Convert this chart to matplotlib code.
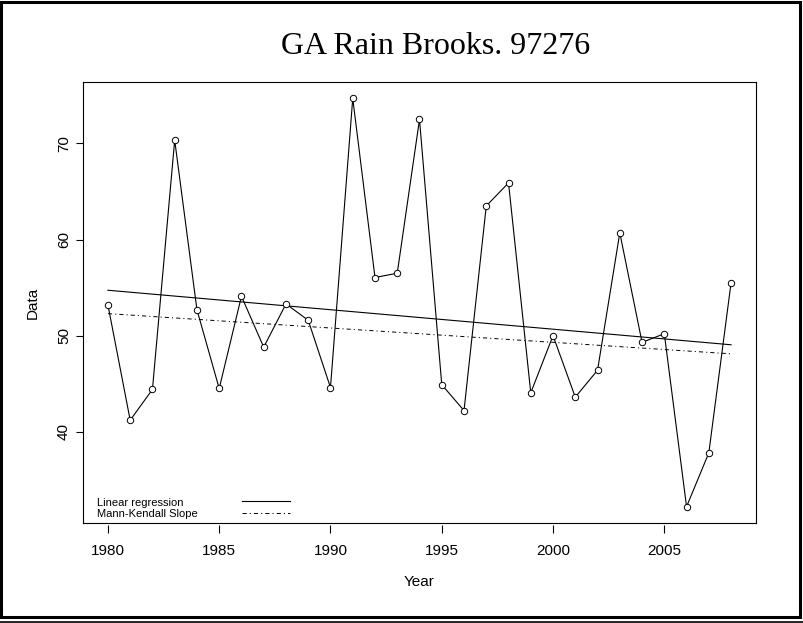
import numpy as np
import matplotlib
matplotlib.use("Agg")
import matplotlib.pyplot as plt
from matplotlib.patches import Rectangle
from matplotlib.lines import Line2D

years = list(range(1980, 2009))
values = [53.2, 41.2, 44.4, 70.35, 52.7, 44.5, 54.1, 48.8, 53.3, 51.6,
          44.6, 74.7, 56.05, 56.5, 72.5, 44.9, 42.2, 63.5, 65.9, 44.05,
          50.0, 43.6, 46.4, 60.7, 49.3, 50.2, 32.2, 37.8, 55.5]
x_ticks = [1980, 1985, 1990, 1995, 2000, 2005]
y_ticks = [40, 50, 60, 70]
title = "GA Rain Brooks. 97276"
legend_labels = ["Linear regression", "Mann-Kendall Slope"]

plt.rcParams['font.family'] = ['Liberation Sans', 'DejaVu Sans']
plt.rcParams['lines.scale_dashes'] = False

x = np.array(years, dtype=float)
y = np.array(values, dtype=float)

# linear regression
b1, b0 = np.polyfit(x, y, 1)
# Sen's slope (Mann-Kendall)
slopes = [(y[j] - y[i]) / (x[j] - x[i]) for i in range(len(x)) for j in range(i + 1, len(x))]
sen = np.median(slopes)
sen_int = np.median(y) - sen * np.median(x)

W, H = 804, 623
AX_L, AX_R, AX_T, AX_B = 83, 756, 82, 523
fig = plt.figure(figsize=(W / 100, H / 100), dpi=100)
ax = fig.add_axes([AX_L / W, 1 - AX_B / H, (AX_R - AX_L) / W, (AX_B - AX_T) / H])
aw, ah = AX_R - AX_L, AX_B - AX_T

dash = (3, 2.2, 0.8, 2.2)
ax.plot(x, y, color='black', lw=0.8, marker='o', ms=4.6, mfc='white', mec='black', mew=0.7, zorder=3)
xl = np.array([x.min(), x.max()])
ax.plot(xl, b0 + b1 * xl, color='black', lw=0.8, zorder=2)
ax.plot(xl, sen_int + sen * xl, color='black', lw=0.7, dashes=dash, zorder=2)

rng = x.max() - x.min()
ax.set_xlim(x.min() - 0.04 * rng, x.max() + 0.04 * rng)
yr = y.max() - y.min()
ax.set_ylim(y.min() - 0.04 * yr, y.max() + 0.04 * yr)

for s in ax.spines.values():
    s.set_linewidth(0.8)
    s.set_color('black')

ax.set_yticks(y_ticks)
ax.set_yticklabels([str(v) for v in y_ticks], rotation=90, va='center')
ax.tick_params(axis='y', direction='out', length=5.2, width=0.8, pad=3.5, labelsize=11)
ax.set_xticks([])

sec = ax.secondary_xaxis(-2 / ah)
sec.spines['bottom'].set_visible(False)
sec.set_xticks(x_ticks)
sec.set_xticklabels([str(v) for v in x_ticks])
sec.tick_params(axis='x', direction='out', length=5.8, width=0.8, pad=8, labelsize=11)

ax.set_xlabel("Year", fontsize=11)
ax.xaxis.set_label_coords(0.5, -(575 - AX_B) / ah)
ax.set_ylabel("Data", fontsize=11)
ax.yaxis.set_label_coords(-0.064, 0.5)

# legend (drawn as in the original: labels left, line samples right, no frame)
leg_styles = [dict(lw=0.8), dict(lw=0.7, dashes=dash)]
leg_text_y = [503, 514]
leg_line_y = [501, 512.5]
for lab, st, ty, ly in zip(legend_labels, leg_styles, leg_text_y, leg_line_y):
    ax.text((97 - AX_L) / aw, (AX_B - ty) / ah, lab, transform=ax.transAxes,
            ha='left', va='center', fontsize=8)
    ax.add_line(Line2D([(242 - AX_L) / aw, (290 - AX_L) / aw], [(AX_B - ly) / ah] * 2,
                       transform=ax.transAxes, color='black', **st))

fig.text(436 / W, 1 - 47 / H, title, ha='center', va='center',
         family='Liberation Serif', fontsize=23)

fig.patches.append(Rectangle((1.5 / W, 1 - 617 / H), (800 - 1.5) / W, (617 - 1.5) / H,
                             transform=fig.transFigure, fill=False, lw=2.2, edgecolor='black'))
fig.lines.append(Line2D([0, 1], [1 - 622 / H, 1 - 622 / H], transform=fig.transFigure,
                        color='black', lw=1.2))

fig.savefig("out.png", dpi=100)
